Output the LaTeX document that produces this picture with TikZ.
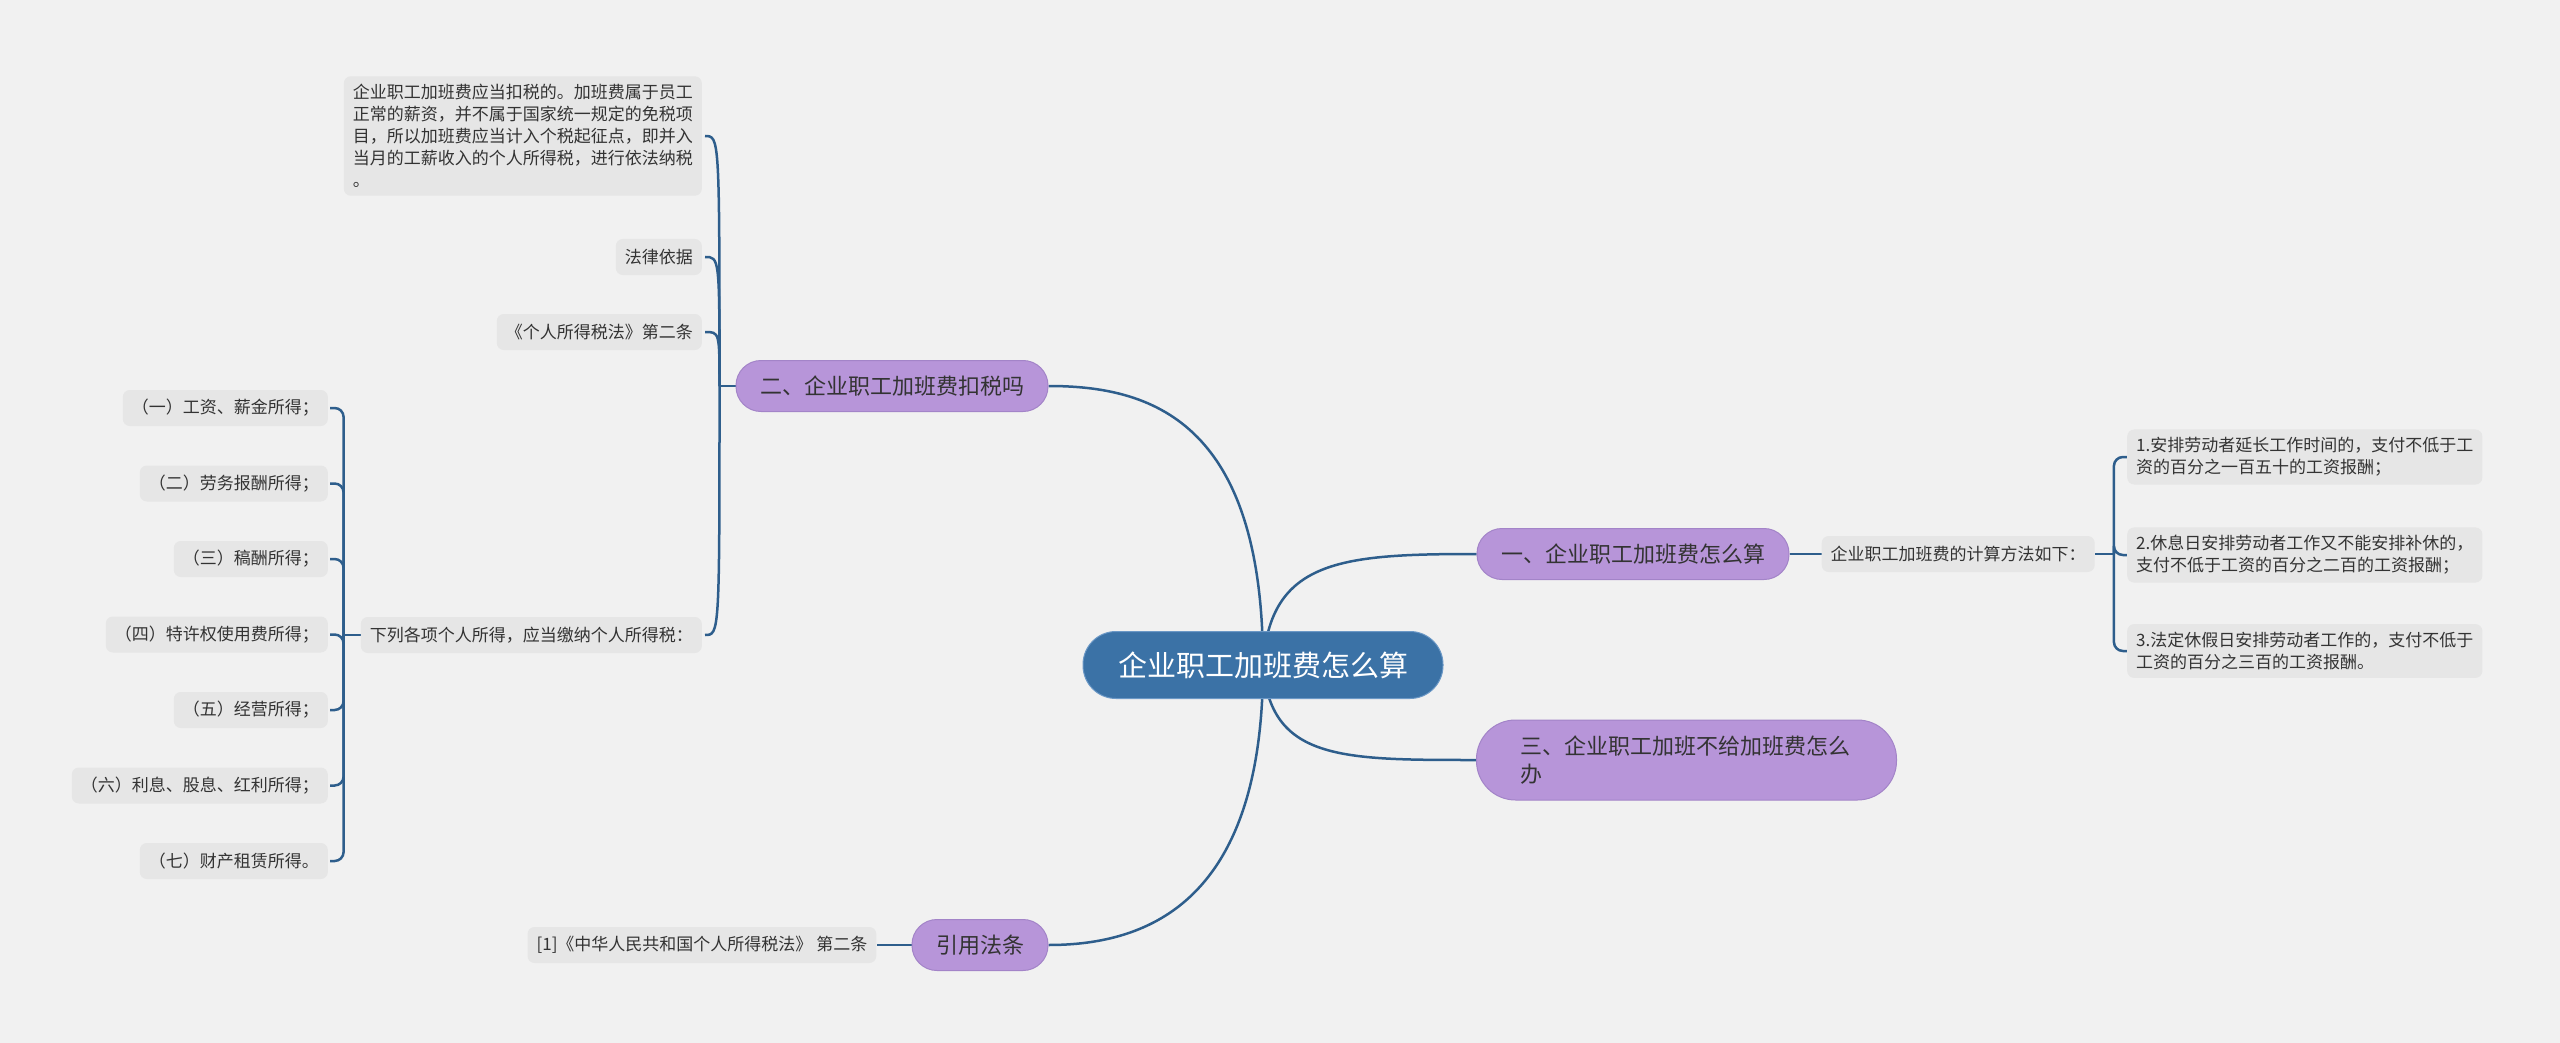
\documentclass[tikz,border=0pt]{standalone}
\usepackage{fontspec}
\setmainfont{Noto Sans CJK SC}
\usetikzlibrary{positioning,backgrounds}
\definecolor{pagebg}{HTML}{F1F1F1}
\definecolor{leafgray}{HTML}{E6E6E6}
\definecolor{branchpurple}{HTML}{B795D9}
\definecolor{branchedge}{HTML}{A384C8}
\definecolor{rootblue}{HTML}{3B72A6}
\definecolor{rootedge}{HTML}{6B98C6}
\definecolor{linkblue}{HTML}{2E5E8C}
\definecolor{inkdark}{HTML}{333333}
\tikzset{
  root/.style={fill=rootblue, draw=rootedge, line width=1pt, rounded corners=33pt, text=white, minimum height=67pt, inner xsep=35pt, font=\fontsize{29pt}{34pt}\selectfont},
  branch/.style={fill=branchpurple, draw=branchedge, line width=1pt, rounded corners=25pt, text=inkdark, minimum height=51pt, inner xsep=24pt, font=\fontsize{22pt}{28pt}\selectfont},
  leaf/.style={fill=leafgray, rounded corners=7pt, text=inkdark, minimum height=36pt, inner xsep=9pt, inner ysep=8pt, align=left, font=\fontsize{17pt}{22pt}\selectfont},
  link/.style={draw=linkblue, line width=2.5pt},
  brace/.style={link, rounded corners=9pt}
}
\begin{document}
\begin{tikzpicture}[x=1pt, y=-1pt]
\useasboundingbox (0,0) rectangle (2560,1043);
% centre and main branches
\node[root] (root) at (1263,665) {企业职工加班费怎么算};
\node[branch] (one) at (1633,554) {一、企业职工加班费怎么算};
\node[branch] (two) at (892,386) {二、企业职工加班费扣税吗};
\node[branch, anchor=west, text width=332pt, align=left, minimum height=80pt, inner xsep=44pt, rounded corners=39pt] (three) at (1476,760) {三、企业职工加班不给加班费怎么\\办};
\node[branch] (cite) at (980,945) {引用法条};
% right side
\node[leaf, right=32pt of one] (calc) {企业职工加班费的计算方法如下：};
\node[leaf, anchor=west] (r1) at (2127,457) {1.安排劳动者延长工作时间的，支付不低于工\\资的百分之一百五十的工资报酬；};
\node[leaf, anchor=west] (r2) at (2127,555) {2.休息日安排劳动者工作又不能安排补休的，\\支付不低于工资的百分之二百的工资报酬；};
\node[leaf, anchor=west] (r3) at (2127,651) {3.法定休假日安排劳动者工作的，支付不低于\\工资的百分之三百的工资报酬。};
% left side
\node[leaf, anchor=east] (para) at (702,136) {企业职工加班费应当扣税的。加班费属于员工\\正常的薪资，并不属于国家统一规定的免税项\\目，所以加班费应当计入个税起征点，即并入\\当月的工薪收入的个人所得税，进行依法纳税\\。};
\node[leaf, anchor=east] (basis) at (702,257) {法律依据};
\node[leaf, anchor=east] (law) at (702,332) {《个人所得税法》第二条};
\node[leaf, anchor=east] (list) at (702,635) {下列各项个人所得，应当缴纳个人所得税：};
\foreach \t [count=\k] in {（一）工资、薪金所得；, （二）劳务报酬所得；, （三）稿酬所得；, （四）特许权使用费所得；, （五）经营所得；, （六）利息、股息、红利所得；, （七）财产租赁所得。}
  \node[leaf, anchor=east] (i\k) at (328,332.5+75.5*\k) {\t};
\node[leaf, left=35pt of cite] (ref) {[1]《中华人民共和国个人所得税法》 第二条};
% connectors
\begin{scope}[on background layer]
\fill[pagebg] (0,0) rectangle (2560,1043);
\draw[link] (root.center) .. controls (1263,420) and (1150,386) .. (two.east);
\draw[link] (root.center) .. controls (1270,560) and (1340,554) .. (one.west);
\draw[link] (root.center) .. controls (1270,760) and (1340,760) .. (three.west);
\draw[link] (root.center) .. controls (1263,900) and (1150,945) .. (cite.east);
\draw[link] (one) -- (calc);
\draw[link] (cite) -- (ref);
\draw[link] (calc.east) -- ++(19,0) coordinate (rfork);
\foreach \n in {r1,r2,r3}
  \draw[brace] (rfork) |- (\n.west);
\draw[link] (two.west) -- ++(-16,0) coordinate (lfork);
\foreach \n in {para,basis,law,list}
  \draw[link] (lfork) .. controls (lfork|-\n.east) and (lfork|-\n.east) .. ([xshift=3pt]\n.east);
\draw[link] (list.west) -- ++(-17,0) coordinate (ifork);
\foreach \k in {1,...,7}
  \draw[brace] (ifork) |- ([xshift=2pt]i\k.east);
\end{scope}
\end{tikzpicture}
\end{document}
